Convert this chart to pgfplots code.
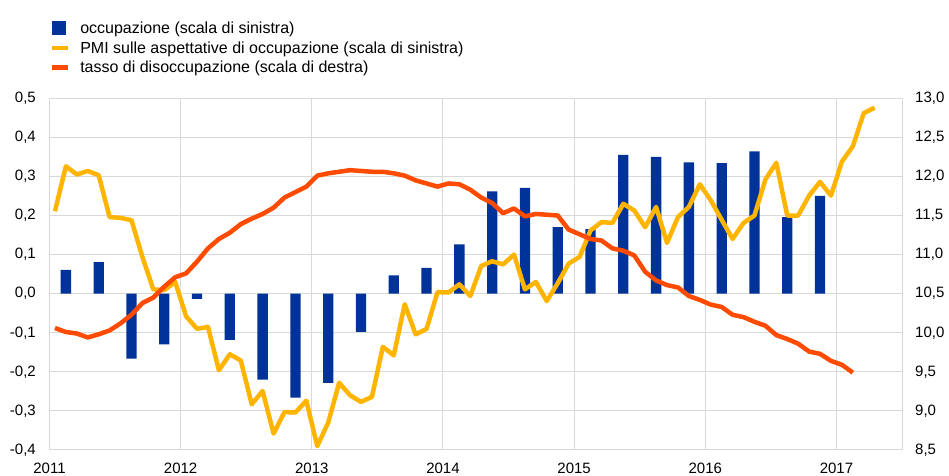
\documentclass[border=0pt]{standalone}
\usepackage{fontspec}
\setmainfont{Liberation Sans}
\usepackage{pgfplots}
\usepackage{pgfplotstable}
\pgfplotsset{compat=1.18}
\definecolor{ecbblue}{HTML}{003399}
\definecolor{pmi}{HTML}{FFB400}
\definecolor{unemp}{HTML}{FF4B00}
\definecolor{gridc}{HTML}{D9D9D9}

% month index (0 = start of Jan 2011), value
\pgfplotstableread{
x y
1.5 0.061
4.5 0.081
7.5 -0.166
10.5 -0.130
13.5 -0.013
16.5 -0.118
19.5 -0.220
22.5 -0.266
25.5 -0.228
28.5 -0.098
31.5 0.047
34.5 0.066
37.5 0.126
40.5 0.262
43.5 0.271
46.5 0.170
49.5 0.165
52.5 0.355
55.5 0.350
58.5 0.336
61.5 0.334
64.5 0.364
67.5 0.196
70.5 0.250
}\occupazione

\pgfplotstableread{
x y
0.5 0.211
1.5 0.326
2.5 0.305
3.5 0.314
4.5 0.303
5.5 0.196
6.5 0.194
7.5 0.188
8.5 0.094
9.5 0.011
10.5 0.009
11.5 0.030
12.5 -0.058
13.5 -0.090
14.5 -0.085
15.5 -0.196
16.5 -0.155
17.5 -0.171
18.5 -0.283
19.5 -0.249
20.5 -0.358
21.5 -0.303
22.5 -0.304
23.5 -0.274
24.5 -0.390
25.5 -0.330
26.5 -0.228
27.5 -0.260
28.5 -0.277
29.5 -0.264
30.5 -0.136
31.5 -0.158
32.5 -0.027
33.5 -0.104
34.5 -0.090
35.5 0.004
36.5 0.003
37.5 0.024
38.5 -0.006
39.5 0.071
40.5 0.083
41.5 0.075
42.5 0.100
43.5 0.011
44.5 0.030
45.5 -0.019
46.5 0.027
47.5 0.077
48.5 0.094
49.5 0.162
50.5 0.183
51.5 0.181
52.5 0.230
53.5 0.213
54.5 0.170
55.5 0.222
56.5 0.130
57.5 0.196
58.5 0.222
59.5 0.280
60.5 0.239
61.5 0.189
62.5 0.140
63.5 0.181
64.5 0.200
65.5 0.292
66.5 0.335
67.5 0.200
68.5 0.200
69.5 0.251
70.5 0.286
71.5 0.251
72.5 0.338
73.5 0.377
74.5 0.462
75.5 0.476
}\pmi

\pgfplotstableread{
x y
0.5 10.06
1.5 10.01
2.5 9.99
3.5 9.94
4.5 9.98
5.5 10.03
6.5 10.12
7.5 10.23
8.5 10.38
9.5 10.45
10.5 10.59
11.5 10.71
12.5 10.76
13.5 10.91
14.5 11.08
15.5 11.20
16.5 11.28
17.5 11.39
18.5 11.46
19.5 11.52
20.5 11.60
21.5 11.73
22.5 11.80
23.5 11.87
24.5 12.01
25.5 12.04
26.5 12.06
27.5 12.08
28.5 12.07
29.5 12.06
30.5 12.06
31.5 12.04
32.5 12.01
33.5 11.95
34.5 11.91
35.5 11.87
36.5 11.91
37.5 11.90
38.5 11.83
39.5 11.73
40.5 11.66
41.5 11.53
42.5 11.59
43.5 11.49
44.5 11.52
45.5 11.51
46.5 11.50
47.5 11.32
48.5 11.26
49.5 11.20
50.5 11.18
51.5 11.08
52.5 11.05
53.5 10.99
54.5 10.78
55.5 10.67
56.5 10.61
57.5 10.58
58.5 10.47
59.5 10.42
60.5 10.36
61.5 10.33
62.5 10.23
63.5 10.20
64.5 10.14
65.5 10.09
66.5 9.97
67.5 9.92
68.5 9.86
69.5 9.76
70.5 9.73
71.5 9.64
72.5 9.59
73.5 9.49
}\disocc

\begin{document}
\begin{tikzpicture}[x=1bp,y=1bp]
\path[use as bounding box] (0,0) rectangle (949,476);
\pgfplotsset{
  base/.style={
    at={(49.5bp,26bp)}, anchor=south west,
    scale only axis, width=852.5bp, height=351.7bp,
    xmin=0, xmax=78,
    font=\fontsize{15bp}{17bp}\selectfont,
    major tick length=0pt,
    axis line style={draw=gridc, line width=1bp},
  }
}
\begin{axis}[
  base,
  ymin=-0.4, ymax=0.5,
  xtick={0,12,24,36,48,60,72},
  xticklabels={2011,2012,2013,2014,2015,2016,2017},
  ytick={-0.4,-0.3,-0.2,-0.1,0,0.1,0.2,0.3,0.4,0.5},
  yticklabels={{-0,4},{-0,3},{-0,2},{-0,1},{0,0},{0,1},{0,2},{0,3},{0,4},{0,5}},
  xmajorgrids, ymajorgrids,
  major grid style={draw=gridc, line width=1bp},
  xticklabel style={inner sep=0pt, yshift=-13bp},
  yticklabel style={inner sep=0pt, xshift=-13.5bp},
  axis y line*=left,
  legend cell align=left,
  legend style={at={(rel axis cs:0,1)}, anchor=north west, xshift=0.5bp, yshift=77bp,
    draw=none, fill=none, inner sep=0pt, outer sep=0pt, column sep=0pt, row sep=5.5bp,
    font=\fontsize{16bp}{18bp}\selectfont,
    nodes={inner xsep=0pt, inner ysep=0pt, text height=11bp, text depth=0bp}},
]
\addplot[ybar, bar width=10.3bp, fill=ecbblue, draw=none,
  legend image code/.code={\path[draw=none, fill=none] (0,-7bp) rectangle (28bp,7bp); \fill[ecbblue] (0,-7bp) rectangle (14bp,7bp);}]
  table[x=x,y=y] {\occupazione};
\addlegendentry{occupazione (scala di sinistra)}
\addplot[pmi, line width=4.5bp, line join=round,
  legend image code/.code={\path[draw=none, fill=none] (0,-7bp) rectangle (28bp,7bp); \draw[pmi, line width=4.5bp] (0,0) -- (16bp,0);}]
  table[x=x,y=y] {\pmi};
\addlegendentry{PMI sulle aspettative di occupazione (scala di sinistra)}
\addlegendimage{legend image code/.code={\path[draw=none, fill=none] (0,-7bp) rectangle (28bp,7bp); \draw[unemp, line width=4.5bp] (0,0) -- (16bp,0);}}
\addlegendentry{tasso di disoccupazione (scala di destra)}
\end{axis}
\begin{axis}[
  base,
  ymin=8.5, ymax=13,
  axis y line*=right, axis x line=none,
  ytick={8.5,9,9.5,10,10.5,11,11.5,12,12.5,13},
  yticklabels={{8,5},{9,0},{9,5},{10,0},{10,5},{11,0},{11,5},{12,0},{12,5},{13,0}},
  yticklabel style={inner sep=0pt, xshift=13bp},
]
\addplot[unemp, line width=4.5bp, line join=round] table[x=x,y=y] {\disocc};
\end{axis}
\end{tikzpicture}
\end{document}
